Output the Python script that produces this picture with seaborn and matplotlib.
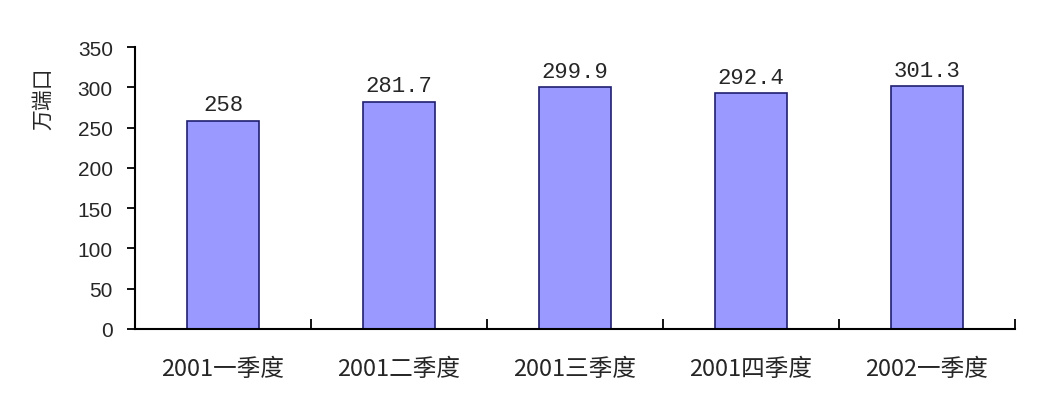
import matplotlib
matplotlib.use("Agg")
import matplotlib.pyplot as plt
import seaborn as sns
import pandas as pd

quarters = ["2001一季度", "2001二季度", "2001三季度", "2001四季度", "2002一季度"]
ports = [258, 281.7, 299.9, 292.4, 301.3]
value_labels = ["258", "281.7", "299.9", "292.4", "301.3"]

sns.set_style("white")
plt.rcParams["font.family"] = ["Noto Sans CJK SC", "DejaVu Sans"]

df = pd.DataFrame({"quarter": quarters, "ports": ports})

fig = plt.figure(figsize=(10.42, 4.14), dpi=100)
ax = fig.add_axes([0.1296, 0.203, 0.8445, 0.681])

sns.barplot(data=df, x="quarter", y="ports", color="#9999FF", saturation=1,
            width=0.41, edgecolor="#1F1F6F", linewidth=1.2, ax=ax)

# value labels above bars
for i, (v, lab) in enumerate(zip(ports, value_labels)):
    ax.text(i, v + 7, lab, ha="center", va="bottom", fontsize=16,
            family=["Liberation Mono", "DejaVu Sans"])

ax.set_xlim(-0.5, 4.5)
ax.set_ylim(0, 350)
ax.set_yticks(range(0, 351, 50))
ax.set_yticklabels([str(t) for t in range(0, 351, 50)],
                   family=["Liberation Sans", "DejaVu Sans"], fontsize=15)
ax.set_xlabel("")
ax.set_ylabel("万端口", fontsize=15)
ax.yaxis.set_label_coords(-0.092, 0.82)

# tick marks between categories, pointing up
ax.set_xticks([0.5, 1.5, 2.5, 3.5, 4.5], minor=True)
ax.tick_params(axis="x", which="major", bottom=True, length=0, labelsize=17, pad=20)
ax.tick_params(axis="x", which="minor", bottom=True, direction="in", length=7,
               width=1.3, color="black")
ax.tick_params(axis="y", left=True, direction="out", length=6, width=1.3,
               color="black", pad=10)

for side in ["top", "right"]:
    ax.spines[side].set_visible(False)
for side in ["left", "bottom"]:
    ax.spines[side].set_color("black")
    ax.spines[side].set_linewidth(1.5)

fig.savefig("out.png", dpi=100)
